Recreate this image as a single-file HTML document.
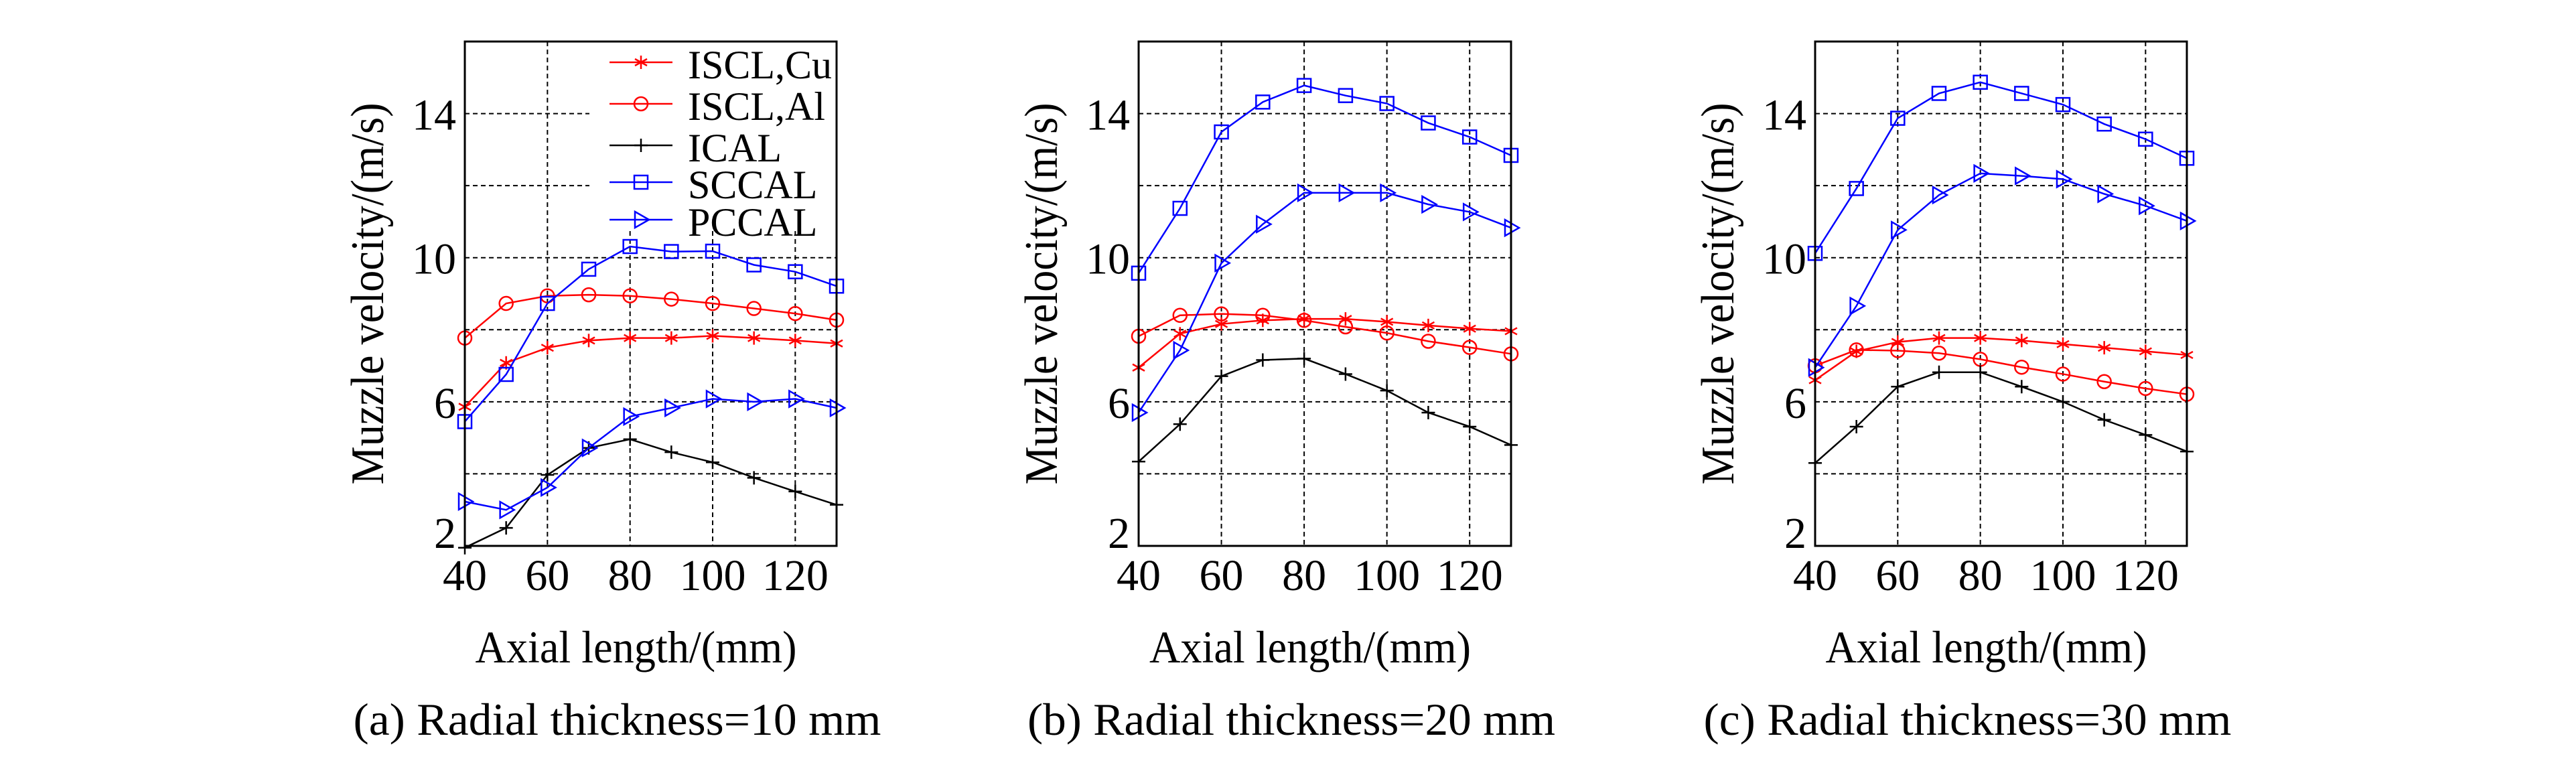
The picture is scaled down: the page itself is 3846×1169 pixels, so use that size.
<!DOCTYPE html>
<html><head><meta charset="utf-8">
<style>
html,body{margin:0;padding:0;background:#fff;}
svg{display:block;}
text{font-family:"Liberation Serif",serif;fill:#000;}
</style></head>
<body>
<svg id="fig" width="3846" height="1169" viewBox="0 0 3846 1169" xmlns="http://www.w3.org/2000/svg" font-family="Liberation Serif, serif">
<rect width="3846" height="1169" fill="#fff"/>
</svg>
<script>
// ---- data ----
const xCats = [40, 50, 60, 70, 80, 90, 100, 110, 120, 130];
const xTicks = [40, 60, 80, 100, 120];
const yTicks = [2, 6, 10, 14];
const yGrid = [4, 6, 8, 10, 12, 14];
const seriesNames = ["ISCL,Cu", "ISCL,Al", "ICAL", "SCCAL", "PCCAL"];
// panel a (radial thickness 10 mm)
const aCu    = [5.86, 7.08, 7.5, 7.7, 7.77, 7.77, 7.83, 7.77, 7.7, 7.62];
const aAl    = [7.77, 8.73, 8.94, 8.97, 8.94, 8.85, 8.73, 8.59, 8.45, 8.27];
const aICAL  = [1.95, 2.5, 3.97, 4.72, 4.96, 4.6, 4.32, 3.89, 3.51, 3.14];
const aSCCAL = [5.45, 6.76, 8.73, 9.68, 10.31, 10.17, 10.18, 9.8, 9.61, 9.21];
const aPCCAL = [3.23, 3.0, 3.62, 4.72, 5.59, 5.83, 6.08, 6.0, 6.08, 5.83];
// panel b (20 mm)
const bCu    = [6.95, 7.89, 8.16, 8.26, 8.3, 8.3, 8.22, 8.12, 8.03, 7.96];
const bAl    = [7.82, 8.4, 8.44, 8.4, 8.26, 8.08, 7.91, 7.68, 7.51, 7.33];
const bICAL  = [4.34, 5.38, 6.71, 7.16, 7.2, 6.77, 6.31, 5.7, 5.31, 4.8];
const bSCCAL = [9.57, 11.37, 13.49, 14.32, 14.78, 14.5, 14.28, 13.74, 13.35, 12.84];
const bPCCAL = [5.7, 7.43, 9.85, 10.93, 11.8, 11.8, 11.8, 11.48, 11.27, 10.83];
// panel c (30 mm)
const cCu    = [6.6, 7.4, 7.66, 7.77, 7.77, 7.7, 7.6, 7.5, 7.4, 7.3];
const cAl    = [7.0, 7.44, 7.42, 7.35, 7.18, 6.96, 6.77, 6.56, 6.37, 6.21];
const cICAL  = [4.3, 5.31, 6.42, 6.82, 6.82, 6.42, 6.0, 5.5, 5.08, 4.62];
const cSCCAL = [10.12, 11.92, 13.87, 14.56, 14.87, 14.56, 14.25, 13.71, 13.29, 12.76];
const cPCCAL = [6.95, 8.66, 10.77, 11.74, 12.34, 12.27, 12.18, 11.77, 11.44, 11.02];
const captions = ["(a) Radial thickness=10 mm", "(b) Radial thickness=20 mm", "(c) Radial thickness=30 mm"];

const NS = "http://www.w3.org/2000/svg";
const svg = document.getElementById("fig");
function mk(tag, attrs, parent) {
  const e = document.createElementNS(NS, tag);
  for (const k in attrs) e.setAttribute(k, attrs[k]);
  (parent || svg).appendChild(e);
  return e;
}
const colors = ["#ff0000", "#ff0000", "#000000", "#0000ff", "#0000ff"];
const markers = ["star", "circle", "plus", "square", "tri"];

function drawMarker(g, type, cx, cy, col) {
  let m;
  if (type === "star") {
    m = mk("path", {d: `M${cx} ${cy-10}V${cy+10}M${cx-9} ${cy-5}L${cx+9} ${cy+5}M${cx-9} ${cy+5}L${cx+9} ${cy-5}`, stroke: col, "stroke-width": 2.5, fill: "none"}, g);
  } else if (type === "circle") {
    m = mk("circle", {cx: cx, cy: cy, r: 10, stroke: col, "stroke-width": 2.5, fill: "none"}, g);
  } else if (type === "plus") {
    m = mk("path", {d: `M${cx-10} ${cy}H${cx+10}M${cx} ${cy-10}V${cy+10}`, stroke: col, "stroke-width": 2.5, fill: "none"}, g);
  } else if (type === "square") {
    m = mk("rect", {x: cx-10, y: cy-10, width: 20, height: 20, stroke: col, "stroke-width": 2.5, fill: "none"}, g);
  } else {
    m = mk("path", {d: `M${cx-9} ${cy-12}L${cx+12} ${cy}L${cx-9} ${cy+12}Z`, stroke: col, "stroke-width": 2.5, fill: "none"}, g);
  }
  return m;
}

const panels = [
  {x0: 694, x1: 1249, data: [aCu, aAl, aICAL, aSCCAL, aPCCAL], legend: true, id: "a"},
  {x0: 1700, x1: 2256, data: [bCu, bAl, bICAL, bSCCAL, bPCCAL], legend: false, id: "b"},
  {x0: 2710, x1: 3265, data: [cCu, cAl, cICAL, cSCCAL, cPCCAL], legend: false, id: "c"}
];
const yTop = 62, yBot = 815, yMin = 2, yMax = 16, xMin = 40, xMax = 130;
const FF = "Liberation Serif, serif";

panels.forEach((p, pi) => {
  const g = mk("g", {});
  
  
  const sx = v => p.x0 + (v - xMin) / (xMax - xMin) * (p.x1 - p.x0);
  const sy = v => yBot - (v - yMin) / (yMax - yMin) * (yBot - yTop);
  const legX = 880;
  const legBottom = 345;
  yGrid.forEach(v => {
    const xe = (p.legend && sy(v) < legBottom) ? legX : p.x1;
    const l = mk("line", {x1: p.x0, x2: xe, y1: sy(v), y2: sy(v), stroke: "#000", "stroke-width": 2, "stroke-dasharray": "7,5"}, g);
    
    
  });
  xTicks.slice(1).forEach(v => {
    const ys = (p.legend && sx(v) > legX) ? legBottom : yTop;
    const l = mk("line", {x1: sx(v), x2: sx(v), y1: ys, y2: yBot, stroke: "#000", "stroke-width": 2, "stroke-dasharray": "7,5"}, g);
    
    
  });
  p.data.forEach((arr, si) => {
    const sg = mk("g", {}, g);
    
    
    const pts = arr.map((v, i) => sx(xCats[i]) + "," + sy(v)).join(" ");
    const pl = mk("polyline", {points: pts, fill: "none", stroke: colors[si], "stroke-width": 2.5}, sg);
    
    
    arr.forEach((v, i) => {
      const m = drawMarker(sg, markers[si], sx(xCats[i]), sy(v), colors[si]);
      
      
    });
  });
  if (p.legend) {
    const lg = mk("g", {}, g);
    
    
    const rowsY = [93, 155, 217, 272, 328];
    seriesNames.forEach((n, i) => {
      const e = mk("g", {}, lg);
      
      
      mk("line", {x1: 910, x2: 1004, y1: rowsY[i], y2: rowsY[i], stroke: colors[i], "stroke-width": 2.5}, e);
      drawMarker(e, markers[i], 957, rowsY[i], colors[i]);
      const t = mk("text", {x: 1027, y: rowsY[i] + 24, "font-size": 60, "font-family": FF}, e);
      t.textContent = n;
    });
  }
  const fr = mk("rect", {x: p.x0, y: yTop, width: p.x1 - p.x0, height: yBot - yTop, fill: "none", stroke: "#000", "stroke-width": 3}, g);
  
  
  xTicks.forEach(v => {
    const t = mk("text", {x: sx(v), y: 881, "font-size": 66, "text-anchor": "middle", "font-family": FF}, g);
    
    
    t.textContent = v;
  });
  yTicks.forEach(v => {
    const by = v === yMin ? yBot + 3 : sy(v) + 24;
    const t = mk("text", {x: p.x0 - 13, y: by, "font-size": 66, "text-anchor": "end", "font-family": FF}, g);
    
    
    t.textContent = v;
  });
  const xt = mk("text", {x: (p.x0 + p.x1) / 2 - 22, y: 989, "font-size": 68, "text-anchor": "middle", textLength: 480, lengthAdjust: "spacingAndGlyphs", "font-family": FF}, g);
  
  
  xt.textContent = "Axial length/(mm)";
  const yc = (yTop + yBot) / 2;
  const yx = p.x0 - 122;
  const yt = mk("text", {x: yx, y: yc, "font-size": 70, "text-anchor": "middle", transform: `rotate(-90 ${yx} ${yc})`, textLength: 570, lengthAdjust: "spacingAndGlyphs", "font-family": FF}, g);
  
  
  yt.textContent = "Muzzle velocity/(m/s)";
  const cp = mk("text", {x: (p.x0 + p.x1) / 2 - 50, y: 1097, "font-size": 68, "text-anchor": "middle", textLength: 788, lengthAdjust: "spacingAndGlyphs", "font-family": FF}, g);
  
  
  cp.textContent = captions[pi];
});
</script>
</body></html>
